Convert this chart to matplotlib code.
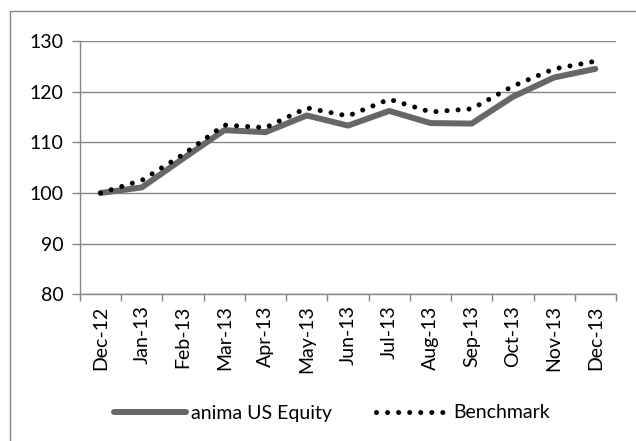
import matplotlib
matplotlib.use('Agg')
import matplotlib.pyplot as plt
from matplotlib.patches import Rectangle

months = ['Dec-12', 'Jan-13', 'Feb-13', 'Mar-13', 'Apr-13', 'May-13', 'Jun-13',
          'Jul-13', 'Aug-13', 'Sep-13', 'Oct-13', 'Nov-13', 'Dec-13']
equity = [100.0, 101.1, 106.8, 112.4, 112.0, 115.3, 113.3, 116.2, 113.8, 113.7, 119.0, 122.8, 124.5]
benchmark = [100.0, 102.5, 107.6, 113.4, 112.9, 116.8, 115.2, 118.5, 116.0, 116.6, 121.1, 124.5, 126.0]
y_ticks = [80, 90, 100, 110, 120, 130]

plt.rcParams['font.family'] = ['Lato', 'DejaVu Sans']
grey = '#868686'

fig = plt.figure(figsize=(6.36, 4.41), dpi=100)
# outer chart border, cut at right and bottom like the screenshot
fig.patches.append(Rectangle((10 / 636, -0.1), 1.0, 1 - 11 / 441 + 0.1,
                             transform=fig.transFigure, fill=False,
                             edgecolor=grey, linewidth=1.0))

ax = fig.add_axes([80 / 636, 1 - 294.3 / 441, 536 / 636, (294.3 - 41) / 441])
x = list(range(len(months)))
ax.plot(x, equity, color='#676767', linewidth=4.3, solid_capstyle='round',
        solid_joinstyle='round', label='anima US Equity')
ax.plot(x, benchmark, color='black', linewidth=3.6, linestyle=(0, (0.01, 2.2)),
        dash_capstyle='round', label='Benchmark')

ax.set_xlim(-0.5, len(months) - 0.5)
ax.set_ylim(80, 130)
ax.set_yticks(y_ticks)
ax.yaxis.grid(True, color=grey, linewidth=1.0)
ax.set_axisbelow(True)
ax.set_xticks([i - 0.5 for i in range(len(months) + 1)])
ax.set_xticklabels([])
ax.set_xticks(x, minor=True)
ax.set_xticklabels(months, minor=True, rotation=90, fontsize=14)
ax.tick_params(axis='x', which='minor', length=0, pad=8)
ax.tick_params(axis='x', which='major', length=5, color=grey, width=1)
ax.tick_params(axis='y', length=6, color=grey, width=1, labelsize=14, pad=6)
for s in ['top', 'right']:
    ax.spines[s].set_visible(False)
for s in ['left', 'bottom']:
    ax.spines[s].set_color(grey)
    ax.spines[s].set_linewidth(1.0)

leg = fig.legend(loc='center', bbox_to_anchor=(332 / 636, 1 - 413 / 441), ncol=2,
                 frameon=False, fontsize=14, handlelength=3.7, columnspacing=2.3,
                 handletextpad=0.25)

fig.savefig('out.png', dpi=100)
